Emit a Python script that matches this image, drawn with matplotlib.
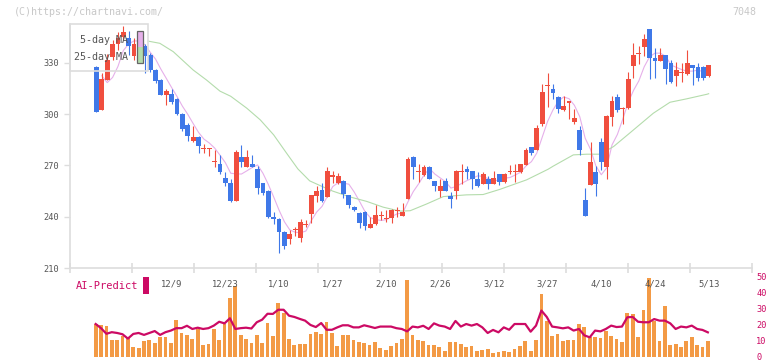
import numpy as np
import pandas as pd
import matplotlib
matplotlib.use("Agg")
import matplotlib.pyplot as plt
from matplotlib.patches import Rectangle

# ---------------- data ----------------
opens = [327.7, 302.5, 320.2, 333.7, 341.0, 345.2, 344.8, 334.3, 334.5, 340.1,
         334.7, 325.9, 320.0, 311.3, 311.9, 309.0, 300.2, 293.7, 284.5, 286.8,
         279.5, 279.4, 272.0, 270.9, 262.8, 259.8, 249.3, 275.0, 269.4, 271.0,
         268.0, 259.7, 255.1, 240.0, 238.8, 231.2, 226.7, 232.1, 227.7, 234.9,
         241.7, 252.4, 255.7, 251.8, 263.5, 259.6, 261.0, 252.6, 245.8, 242.3,
         242.9, 233.7, 235.5, 240.5, 238.6, 239.4, 243.1, 240.7, 250.5, 275.2,
         265.9, 264.5, 269.2, 261.0, 255.1, 261.2, 252.2, 255.1, 266.2, 268.0,
         266.8, 262.2, 259.4, 262.2, 259.4, 265.1, 260.6, 266.3, 266.3, 265.9,
         270.3, 280.7, 279.1, 294.3, 316.5, 314.8, 310.1, 302.5, 306.6, 295.5,
         290.8, 249.9, 258.6, 266.2, 283.8, 269.4, 298.6, 310.1, 303.0, 303.5,
         328.4, 335.3, 339.5, 349.9, 332.7, 331.4, 334.7, 330.0, 322.6, 324.3,
         323.6, 328.8, 327.6, 327.6, 322.6]
highs = [328.0, 324.3, 335.0, 343.5, 348.0, 351.6, 348.5, 344.5, 345.0, 341.0,
         336.0, 326.5, 320.5, 314.8, 314.8, 309.5, 300.5, 295.1, 293.2, 287.0,
         282.5, 280.5, 279.0, 276.2, 266.2, 262.0, 279.0, 282.0, 279.0, 276.0,
         269.8, 260.0, 255.5, 242.8, 239.0, 231.5, 232.0, 234.2, 238.4, 238.2,
         253.0, 257.7, 260.0, 269.4, 266.5, 265.5, 261.3, 253.0, 246.4, 242.6,
         243.1, 239.7, 246.9, 243.6, 244.0, 244.4, 245.6, 248.3, 275.2, 275.5,
         270.9, 270.0, 269.8, 261.2, 262.0, 262.5, 254.2, 267.4, 270.9, 269.8,
         267.0, 266.2, 266.2, 263.9, 266.8, 265.3, 265.5, 270.3, 271.0, 271.0,
         280.0, 281.0, 293.5, 317.7, 324.0, 317.7, 310.5, 310.7, 308.0, 303.1,
         293.1, 256.9, 283.8, 269.7, 286.0, 299.5, 310.9, 311.9, 304.5, 324.9,
         341.7, 339.7, 346.9, 350.0, 338.6, 338.6, 334.8, 332.0, 330.8, 330.0,
         337.8, 329.0, 330.0, 328.0, 329.0]
lows = [301.5, 302.5, 320.0, 332.0, 337.6, 343.5, 334.7, 331.7, 333.0, 324.0,
        325.0, 318.0, 311.0, 305.4, 306.0, 299.8, 290.4, 284.4, 284.0, 277.5,
        277.5, 275.6, 269.0, 265.2, 257.8, 248.8, 249.0, 269.4, 269.0, 269.0,
        253.6, 253.0, 239.0, 235.8, 218.6, 221.2, 223.8, 228.6, 225.5, 233.9,
        236.6, 248.9, 248.7, 251.5, 259.6, 259.4, 250.9, 245.4, 243.4, 233.7,
        232.0, 233.5, 235.3, 238.2, 237.2, 236.6, 240.1, 240.5, 250.3, 262.2,
        260.6, 264.0, 262.0, 255.1, 251.8, 255.0, 245.4, 250.6, 259.4, 262.0,
        256.5, 257.5, 259.0, 256.5, 259.0, 258.8, 260.0, 265.0, 260.6, 265.5,
        270.0, 276.2, 279.0, 293.3, 304.5, 308.7, 300.6, 302.0, 297.2, 294.3,
        276.2, 240.3, 258.5, 252.2, 267.4, 262.0, 293.3, 301.5, 294.3, 303.0,
        321.4, 329.4, 334.3, 320.4, 321.4, 331.0, 317.5, 318.5, 316.7, 319.1,
        323.0, 317.1, 319.5, 320.0, 322.0]
closes = [301.5, 320.6, 331.9, 341.1, 344.8, 348.0, 339.8, 340.9, 340.5, 334.3,
          325.9, 319.7, 311.3, 313.7, 307.3, 299.9, 291.4, 287.4, 286.8, 281.5,
          280.2, 280.0, 272.6, 265.9, 259.5, 249.3, 278.0, 272.3, 275.2, 269.4,
          256.6, 253.7, 239.6, 238.6, 230.8, 222.6, 229.9, 232.8, 237.0, 235.9,
          252.8, 255.2, 249.3, 266.8, 264.2, 264.1, 253.6, 246.6, 243.7, 236.6,
          234.7, 235.8, 240.9, 241.1, 239.1, 243.8, 243.8, 242.9, 273.9, 269.4,
          266.5, 269.2, 262.2, 257.7, 258.1, 255.3, 250.6, 266.8, 266.8, 266.4,
          262.0, 257.7, 265.1, 259.4, 262.7, 260.6, 265.1, 267.0, 266.9, 270.9,
          279.1, 277.4, 292.1, 313.0, 317.1, 312.6, 303.1, 304.8, 307.8, 297.8,
          279.1, 240.5, 272.1, 259.2, 272.0, 299.0, 307.8, 302.7, 303.7, 320.6,
          334.7, 335.9, 344.0, 332.7, 331.4, 334.7, 326.5, 318.7, 325.7, 324.9,
          330.0, 326.9, 321.4, 321.4, 328.8]

# 5-day MA for days 1-3 (window reaches back before the first visible candle)
ma5_head = [322.5, 318.5, 321.5]

# 25-day MA, read at points along the line
ma25_pos = [9.6, 11.8, 14.3, 18, 20.5, 23, 25, 28, 30.5, 33, 35.4, 37.5, 39.7,
            41.6, 44, 47.2, 50.3, 53.4, 56.5, 58.4, 61.5, 64.6, 68.9, 72, 75.1,
            78.5, 80.1, 82.3, 84.1, 85.1, 88.8, 91.3, 93.8, 96.3, 99.5, 103.7,
            106.8, 109.9, 113.7, 114]
ma25_val = [342.8, 341.5, 336.6, 325.9, 320.0, 313.5, 310.5, 303.5, 296.7, 287.9,
            277.2, 268.0, 261.0, 258.3, 255.0, 251.6, 249.0, 245.6, 243.3, 243.5,
            247.5, 251.8, 252.8, 253.0, 256.0, 259.8, 261.6, 265.0, 267.8, 269.7,
            276.2, 276.6, 276.6, 281.1, 289.5, 300.6, 307.0, 309.0, 311.7, 312.0]

ai_bars = [20.6, 20.0, 19.4, 10.6, 10.6, 13.1, 11.9, 6.3, 5.6, 10.0,
           10.6, 8.75, 12.5, 12.5, 8.75, 23.1, 15.0, 13.75, 11.25, 17.5,
           7.5, 8.1, 17.5, 10.6, 20.6, 36.9, 44.4, 13.75, 11.25, 8.75,
           13.75, 8.75, 21.25, 13.1, 33.75, 27.5, 11.25, 7.5, 8.1, 8.1,
           14.4, 15.6, 14.4, 21.9, 15.0, 6.9, 13.75, 13.75, 10.6, 9.4,
           8.75, 7.5, 9.4, 5.6, 4.4, 6.9, 8.75, 11.25, 48.1, 13.75,
           10.6, 10.0, 7.5, 7.5, 6.25, 3.75, 9.4, 9.4, 8.1, 6.25,
           6.9, 3.75, 4.4, 5.0, 2.5, 3.1, 3.75, 3.1, 5.0, 6.9,
           10.0, 3.75, 10.6, 39.4, 22.5, 13.1, 14.4, 10.0, 10.6, 10.6,
           20.6, 18.75, 12.5, 12.5, 11.9, 16.25, 13.1, 11.25, 9.4, 27.5,
           26.9, 12.5, 29.4, 49.4, 22.5, 10.0, 31.9, 7.5, 8.1, 6.25,
           10.0, 12.5, 7.5, 6.25, 10.0]
ai_line = [20.6, 18.0, 14.5, 15.5, 15.0, 14.2, 11.5, 14.4, 15.0, 13.8,
           15.0, 16.2, 13.8, 15.5, 16.5, 18.0, 18.0, 19.5, 17.5, 18.3,
           17.5, 18.0, 19.6, 22.0, 21.0, 24.2, 17.5, 18.0, 18.3, 17.8,
           21.7, 23.3, 27.0, 26.9, 29.5, 29.5, 25.8, 25.0, 23.8, 22.7,
           20.0, 18.7, 21.2, 17.0, 17.0, 18.5, 19.8, 19.8, 18.5, 18.5,
           19.8, 19.0, 18.1, 19.0, 19.0, 19.0, 18.0, 17.5, 16.0, 19.0,
           18.5, 19.5, 17.5, 21.0, 19.6, 19.0, 17.5, 22.5, 19.0, 20.6,
           19.6, 20.6, 18.5, 15.0, 16.9, 15.4, 18.5, 17.0, 20.6, 20.6,
           20.6, 15.8, 19.6, 29.0, 25.0, 19.0, 18.5, 17.9, 18.5, 16.5,
           17.5, 13.5, 12.3, 16.5, 16.0, 17.5, 19.6, 18.7, 19.0, 24.8,
           25.0, 22.0, 21.7, 21.7, 23.7, 22.7, 22.7, 21.0, 17.5, 19.0,
           18.5, 19.6, 17.5, 16.9, 15.4]

date_labels = ["12/9", "12/23", "1/10", "1/27", "2/10", "2/26",
               "3/12", "3/27", "4/10", "4/24", "5/13"]
date_pos = [14, 24, 34, 44, 54, 64, 74, 84, 94, 104, 114]

# ---------------- style ----------------
RED = "#f04e3e"
BLUE = "#3f78e8"
PINK = "#e6b0ea"
GREEN = "#b4dcac"
ORANGE = "#f39a45"
MAGENTA = "#cc0a64"
AXC = "#dddddd"

plt.rcParams["font.family"] = "DejaVu Sans Mono"

W, H = 772, 361
fig = plt.figure(figsize=(W / 100, H / 100), dpi=100)


def box(l, t, r, b):
    return [l / W, 1 - b / H, (r - l) / W, (b - t) / H]


ax2 = fig.add_axes(box(70, 275, 752, 357))
ax = fig.add_axes(box(70, 24, 752, 268))
ax.set_facecolor("none")
ax2.set_facecolor("none")

xlim = (-4.93, 122.07)
x = np.arange(len(closes))

# ---------------- candles ----------------
o = np.array(opens)
c = np.array(closes)
col = np.where(c >= o, RED, BLUE)
ax.vlines(x, lows, highs, colors=col, lw=0.8, zorder=2)
ax.bar(x, np.maximum(np.abs(c - o), 0.6), bottom=np.minimum(o, c),
       width=0.9, color=col, lw=0, zorder=3)

ma5 = pd.Series(closes).rolling(5).mean()
ma5.iloc[1:4] = ma5_head
ax.plot(x, ma5, color=PINK, lw=0.8, zorder=1)
ax.plot(ma25_pos, ma25_val, color=GREEN, lw=0.8, zorder=1)

ax.set_xlim(*xlim)
ax.set_ylim(210, 352.8)
for s in ["top", "right"]:
    ax.spines[s].set_visible(False)
for s in ["left", "bottom"]:
    ax.spines[s].set_color(AXC)
    ax.spines[s].set_linewidth(1.2)

ax.set_yticks([210, 240, 270, 300, 330])
ax.tick_params(axis="y", length=4.5, width=1, color=AXC, labelsize=6.2,
               labelcolor="#555555", pad=3.5)
ax.set_xticks(date_pos)
ax.set_xticklabels(date_labels)
ax.tick_params(axis="x", which="major", length=0, labelsize=6.4,
               labelcolor="#555555", pad=8)
ax.set_xticks(np.linspace(xlim[0], xlim[1], 12), minor=True)
ax.tick_params(axis="x", which="minor", length=7, width=1.2,
               direction="inout", color=AXC)

# legend box
ax.add_patch(Rectangle((0, (268 - 71) / 244), 78 / 682, 47 / 244,
                       transform=ax.transAxes, fill=False, ec=AXC, lw=1.2,
                       zorder=4, clip_on=False))
ax.text(58 / 682, (268 - 40) / 244, "5-day MA", transform=ax.transAxes,
        ha="right", va="center", fontsize=7.2, color="#555555", zorder=5)
ax.text(58 / 682, (268 - 57) / 244, "25-day MA", transform=ax.transAxes,
        ha="right", va="center", fontsize=7.2, color="#555555", zorder=5)
ax.add_patch(Rectangle((67 / 682, (268 - 47) / 244), 6 / 682, 16 / 244,
                       transform=ax.transAxes, fc=PINK, ec="none", zorder=5))
ax.add_patch(Rectangle((67 / 682, (268 - 63) / 244), 6 / 682, 16 / 244,
                       transform=ax.transAxes, fc=GREEN, ec="none", zorder=5))
ax.add_patch(Rectangle((67 / 682, (268 - 63) / 244), 6 / 682, 32 / 244,
                       transform=ax.transAxes, fill=False, ec="#666666",
                       lw=0.9, zorder=6))

# ---------------- AI-Predict panel ----------------
ax2.bar(x, ai_bars, width=0.7, color=ORANGE, lw=0, zorder=2)
ax2.plot(x, ai_line, color=MAGENTA, lw=1.6, zorder=3)
ax2.set_xlim(xlim[0] + 0.15, xlim[1] + 0.15)
ax2.set_ylim(0, 51.2)
for s in ax2.spines.values():
    s.set_visible(False)
ax2.set_xticks([])
ax2.yaxis.tick_right()
ax2.set_yticks([0, 10, 20, 30, 40, 50])
ax2.tick_params(axis="y", length=0, labelsize=6.2, labelcolor=MAGENTA, pad=3)

fig.text(76 / W, 1 - 286 / H, "AI-Predict", ha="left", va="center",
         fontsize=7.5, color=MAGENTA)
fig.patches.append(Rectangle((143 / W, 1 - 294 / H), 6 / W, 17 / H,
                             transform=fig.transFigure, fc=MAGENTA, ec="none"))

# ---------------- header ----------------
fig.text(14 / W, 1 - 12 / H, "(C)https://chartnavi.com/", ha="left",
         va="center", fontsize=7.2, color="#c8c8c8")
fig.text(756 / W, 1 - 12 / H, "7048", ha="right", va="center",
         fontsize=7.2, color="#c8c8c8")

fig.savefig("out.png", dpi=100)
